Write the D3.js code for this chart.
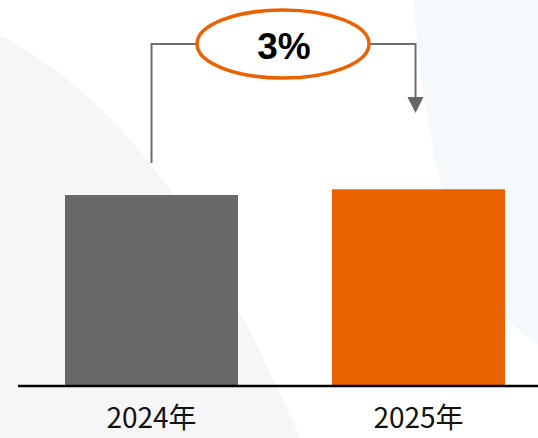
<!DOCTYPE html>
<html>
<head>
<meta charset="utf-8">
<script src="https://cdn.jsdelivr.net/npm/d3@7"></script>
<style>
  html, body { margin: 0; padding: 0; background: #ffffff; }
  svg { display: block; }
</style>
</head>
<body>
<svg id="chart" width="538" height="438"></svg>
<script>
// Yearly totals, indexed so the earlier year is 100
const categories = ["2024年", "2025年"];
const values = [100, 103];
const barColors = ["#696969", "#ea6100"];

const W = 538, H = 438;
const svg = d3.select("#chart");

// soft backdrop shapes
svg.append("path")
  .attr("d", "M0,35 Q95,85 170,190 Q240,300 300,438 L0,438 Z")
  .attr("fill", "#f6f6f6");
svg.append("path")
  .attr("d", "M413,0 L538,0 L538,345 Q470,300 442,190 Q420,95 413,0 Z")
  .attr("fill", "#f6f9fc");

const x = d3.scaleBand()
  .domain(categories)
  .range([18, 552])
  .paddingInner(0.352)
  .paddingOuter(0.176);

const y = d3.scaleLinear()
  .domain([0, 100])
  .range([386, 195]);

// bars
svg.append("g")
  .selectAll("rect")
  .data(categories)
  .join("rect")
  .attr("x", d => x(d))
  .attr("width", x.bandwidth())
  .attr("y", (d, i) => y(values[i]))
  .attr("height", (d, i) => y(0) - y(values[i]))
  .attr("fill", (d, i) => barColors[i]);

// baseline axis with category labels
const axis = svg.append("g")
  .attr("transform", `translate(0,${y(0)})`)
  .call(d3.axisBottom(x).tickSize(0).tickPadding(0));
axis.select(".domain").remove();
axis.append("line")
  .attr("x1", 18).attr("x2", W)
  .attr("y1", 0).attr("y2", 0)
  .attr("stroke", "#000").attr("stroke-width", 2.5);
axis.selectAll(".tick text")
  .attr("y", 42)
  .attr("dy", 0)
  .attr("fill", "#111")
  .style("font-family", "'Noto Sans CJK SC', 'Noto Sans', sans-serif")
  .style("font-size", "28px");

// growth connector from the first bar to the second
const cx0 = x(categories[0]) + x.bandwidth() / 2;
const cx1 = x(categories[1]) + x.bandwidth() / 2;
const lineY = 44;
const ell = { cx: 283, cy: 44, rx: 86, ry: 34 };
const arrowTip = 113;
const gray = "#6e6e6e";

const conn = svg.append("g");
conn.append("path")
  .attr("d", `M${cx0},163 V${lineY} H${ell.cx - ell.rx}`)
  .attr("fill", "none").attr("stroke", gray).attr("stroke-width", 2);
conn.append("path")
  .attr("d", `M${ell.cx + ell.rx},${lineY} H${cx1 - 3} V${arrowTip - 14}`)
  .attr("fill", "none").attr("stroke", gray).attr("stroke-width", 2);
conn.append("path")
  .attr("d", `M${cx1 - 11},${arrowTip - 16} L${cx1 + 5},${arrowTip - 16} L${cx1 - 3},${arrowTip} Z`)
  .attr("fill", "#666666");

conn.append("ellipse")
  .attr("cx", ell.cx).attr("cy", ell.cy)
  .attr("rx", ell.rx).attr("ry", ell.ry)
  .attr("fill", "#ffffff")
  .attr("stroke", "#ea6100").attr("stroke-width", 3.5);

const growth = values[1] / values[0] - 1;
conn.append("text")
  .attr("x", ell.cx + 1).attr("y", 59)
  .attr("text-anchor", "middle")
  .attr("fill", "#000")
  .style("font-family", "'Liberation Sans', Arial, sans-serif")
  .style("font-weight", "bold")
  .style("font-size", "37px")
  .text(d3.format(".0%")(growth));
</script>
</body>
</html>
